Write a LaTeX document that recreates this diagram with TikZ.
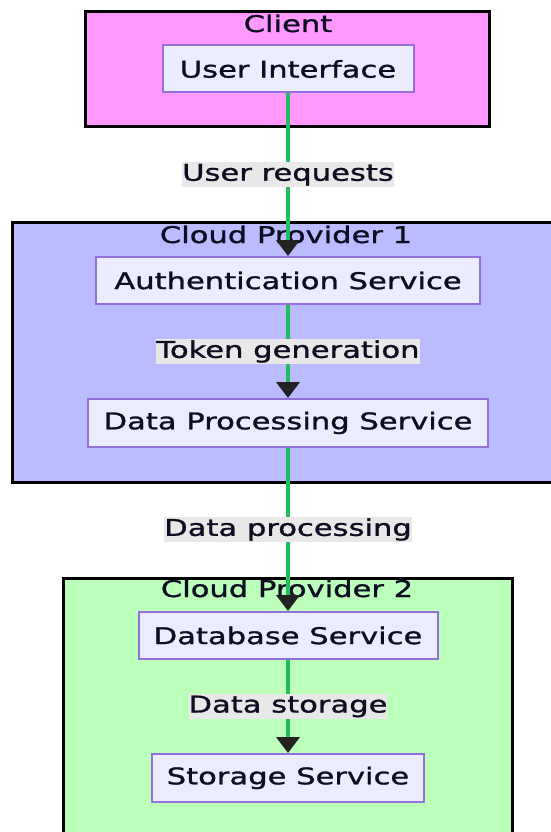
\documentclass[tikz,border=0pt]{standalone}
\usepackage{fontspec}
\setmainfont{DejaVu Sans}[FakeStretch=1.33, FakeBold=1.2]
\usetikzlibrary{arrows.meta}

\definecolor{clientfill}{HTML}{FF99FF}
\definecolor{cponefill}{HTML}{BBBBFF}
\definecolor{cptwofill}{HTML}{BBFFBB}
\definecolor{svcfill}{HTML}{ECECFF}
\definecolor{svcborder}{HTML}{9370DB}
\definecolor{flowgreen}{HTML}{22BD5E}
\definecolor{lblfill}{HTML}{E8E8E8}
\definecolor{tipc}{HTML}{222222}
\definecolor{txt}{HTML}{0E0E22}

\begin{document}
\begin{tikzpicture}[x=1pt, y=-1pt,
  every node/.style={text=txt, font=\fontsize{23}{27}\selectfont},
  grp/.style={draw=black, line width=3pt},
  grptitle/.style={anchor=base, inner sep=0pt},
  svc/.style={draw=svcborder, line width=2pt, fill=svcfill,
              minimum height=47pt, inner sep=0pt},
  lbl/.style={fill=lblfill, inner sep=0pt, minimum height=25pt},
  flow/.style={draw=flowgreen, line width=4pt,
               -{Triangle[width=23pt,length=16pt,color=tipc]}}]
\useasboundingbox (0,0) rectangle (551,832);
\clip (0,0) rectangle (551,832);
\fill[white] (0,0) rectangle (551,832);

% groups
\draw[grp, fill=clientfill] (85,12) rectangle (489,127);
\draw[grp, fill=cponefill] (12,222) rectangle (564,482);
\draw[grp, fill=cptwofill] (63,578) rectangle (512,850);

\node[grptitle] (tclient) at (288,32) {Client};
\node[grptitle] (tcpone) at (286,243) {Cloud Provider 1};
\node[grptitle] (tcptwo) at (287,597) {Cloud Provider 2};

% services
\node[svc, minimum width=251pt] (ui)   at (288,69)    {User Interface};
\node[svc, minimum width=384pt] (auth) at (288,280.5) {Authentication Service};
\node[svc, minimum width=400pt, minimum height=48pt] (dps) at (288,423) {Data Processing Service};
\node[svc, minimum width=299pt] (db)   at (288,635.5) {Database Service};
\node[svc, minimum width=272pt, minimum height=48pt] (store) at (288,778) {Storage Service};

% flows
\draw[flow] (ui.south) -- node[lbl, minimum width=210pt] (l1) {User requests} (auth.north);
\draw[flow] (auth.south) -- node[lbl, minimum width=264pt] (l2) {Token generation} (dps.north);
\draw[flow] (dps.south) -- node[lbl, minimum width=242pt] (l3) {Data processing} (db.north);
\draw[flow] (db.south) -- node[lbl, minimum width=192pt] (l4) {Data storage} (store.north);
\end{tikzpicture}
\end{document}
